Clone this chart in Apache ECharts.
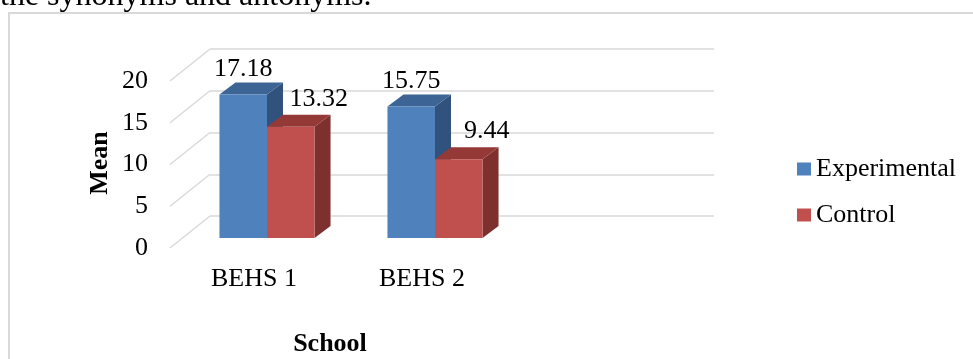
<!DOCTYPE html>
<html>
<head>
<meta charset="utf-8">
<script src="https://cdn.jsdelivr.net/npm/echarts@6/dist/echarts.min.js"></script>
<style>
  html, body { margin: 0; padding: 0; background: #fff; }
  #chart { width: 973px; height: 359px; }
</style>
</head>
<body>
<div id="chart"></div>
<script>
// Mean scores per school, by group
const categories = ['BEHS 1', 'BEHS 2', ''];
const experimental = [17.18, 15.75];
const control = [13.32, 9.44];
const yTicks = [0, 5, 10, 15, 20];

const FONT = '"Liberation Serif", "Times New Roman", serif';
const GRID_COLOR = '#d9d9d9';

// depth offset between the front plane and the back wall
const WALL_DX = 40, WALL_DY = -32;
// depth of one bar
const BAR_DX = 16, BAR_DY = -12;

const blueFaces = { front: '#4f81bd', top: '#3c6494', side: '#30527d' };
const redFaces = { front: '#c0504d', top: '#943936', side: '#7d302e' };

function barRenderer(slot, faces, labelDX, labelDY) {
  return function (params, api) {
    const idx = api.value(0);
    const v = api.value(1);
    const base = api.coord([idx, 0]);
    const top = api.coord([idx, v]);
    const band = api.size([1, 0])[0];
    const w = band * 0.283;
    const x0 = base[0] + 13 - w + slot * w;
    const x1 = x0 + w;
    const yb = base[1] - 10;
    const yt = top[1] - 10;
    return {
      type: 'group',
      children: [
        { type: 'polygon', shape: { points: [[x1, yb], [x1, yt], [x1 + BAR_DX, yt + BAR_DY], [x1 + BAR_DX, yb + BAR_DY]] }, style: { fill: faces.side } },
        { type: 'polygon', shape: { points: [[x0, yt], [x1, yt], [x1 + BAR_DX, yt + BAR_DY], [x0 + BAR_DX, yt + BAR_DY]] }, style: { fill: faces.top } },
        { type: 'rect', shape: { x: x0, y: yt, width: w, height: yb - yt }, style: { fill: faces.front } },
        { type: 'text', x: (x0 + x1) / 2 + labelDX, y: yt - labelDY,
          style: { text: v.toFixed(2), font: '26px ' + FONT, fill: '#000', align: 'center', verticalAlign: 'bottom' } }
      ]
    };
  };
}

// side-wall lines joining each front tick to the back wall
function sideLines(params, api) {
  const y = api.coord([0, api.value(1)])[1];
  const x = params.coordSys.x;
  return {
    type: 'line',
    shape: { x1: x, y1: y, x2: x + WALL_DX, y2: y + WALL_DY },
    style: { stroke: GRID_COLOR, lineWidth: 1.5 }
  };
}

const chart = echarts.init(document.getElementById('chart'), null, { renderer: 'canvas' });

chart.setOption({
  animation: false,
  backgroundColor: '#fff',
  textStyle: { fontFamily: FONT },
  grid: [
    // front plane: tick labels, categories, bars
    { left: 170, top: 81, width: 504, height: 167 },
    // back wall: horizontal grid lines
    { left: 170 + WALL_DX, top: 81 + WALL_DY, width: 504, height: 167 }
  ],
  xAxis: [
    {
      type: 'category', gridIndex: 0, data: categories,
      axisLine: { show: false }, axisTick: { show: false },
      axisLabel: { fontSize: 26, color: '#000', fontFamily: FONT, margin: 18 }
    },
    { type: 'category', gridIndex: 1, data: categories, show: false }
  ],
  yAxis: [
    {
      type: 'value', gridIndex: 0, min: 0, max: 20, interval: 5,
      axisLine: { show: false }, axisTick: { show: false }, splitLine: { show: false },
      axisLabel: { fontSize: 26, color: '#000', fontFamily: FONT, margin: 22 }
    },
    {
      type: 'value', gridIndex: 1, min: 0, max: 20, interval: 5,
      axisLine: { show: false }, axisTick: { show: false }, axisLabel: { show: false },
      splitLine: { show: true, lineStyle: { color: GRID_COLOR, width: 1.5 } }
    }
  ],
  legend: {
    data: ['Experimental', 'Control'],
    orient: 'vertical',
    left: 792,
    top: 151,
    icon: 'rect',
    itemWidth: 14,
    itemHeight: 13,
    itemGap: 20,
    textStyle: { fontSize: 26, color: '#000', fontFamily: FONT }
  },
  graphic: [
    { type: 'line', shape: { x1: 8, y1: 13, x2: 973, y2: 13 }, style: { stroke: GRID_COLOR, lineWidth: 2 } },
    { type: 'line', shape: { x1: 9, y1: 13, x2: 9, y2: 359 }, style: { stroke: GRID_COLOR, lineWidth: 2 } },
    { type: 'text', x: 0, y: -3,
      style: { text: 'the synonyms and antonyms.', font: '32px ' + FONT, fill: '#000', align: 'left', verticalAlign: 'middle' } },
    { type: 'text', x: 100, y: 163, rotation: Math.PI / 2,
      style: { text: 'Mean', font: 'bold 26px ' + FONT, fill: '#000', align: 'center', verticalAlign: 'middle' } },
    { type: 'text', x: 330, y: 344,
      style: { text: 'School', font: 'bold 26px ' + FONT, fill: '#000', align: 'center', verticalAlign: 'middle' } }
  ],
  series: [
    {
      type: 'custom', name: 'walls', xAxisIndex: 0, yAxisIndex: 0, z: 1,
      renderItem: sideLines,
      data: yTicks.map(t => [0, t]),
      silent: true
    },
    {
      type: 'custom', name: 'Experimental', xAxisIndex: 0, yAxisIndex: 0, z: 5,
      itemStyle: { color: blueFaces.front },
      renderItem: barRenderer(0, blueFaces, 0, 12),
      data: experimental.map((v, i) => [i, v])
    },
    {
      type: 'custom', name: 'Control', xAxisIndex: 0, yAxisIndex: 0, z: 5,
      itemStyle: { color: redFaces.front },
      renderItem: barRenderer(1, redFaces, 28, 15),
      data: control.map((v, i) => [i, v])
    }
  ]
});
</script>
</body>
</html>
